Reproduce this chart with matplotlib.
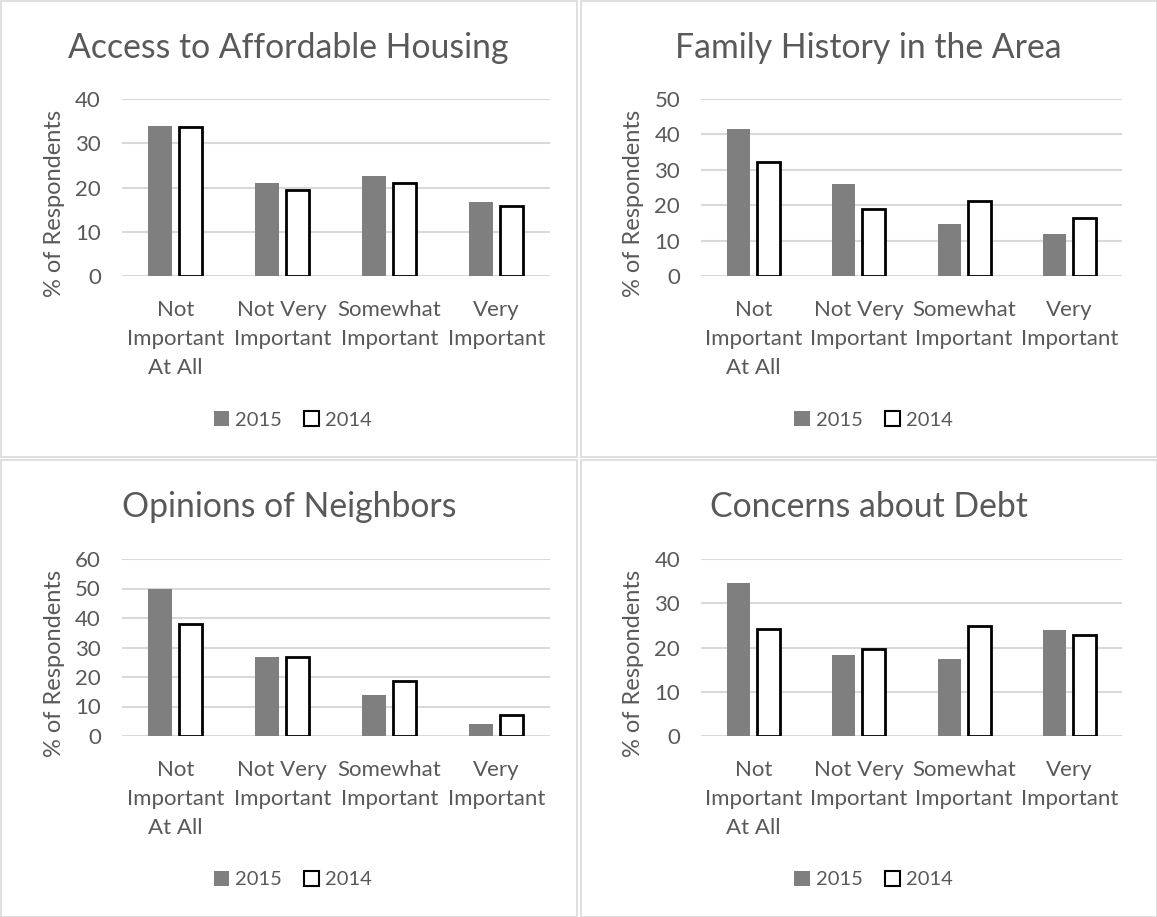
import matplotlib
matplotlib.use("Agg")
import matplotlib.pyplot as plt
import numpy as np
from matplotlib.patches import Rectangle, Patch

plt.rcParams['font.family'] = ['Lato', 'DejaVu Sans']

categories = ["Not\nImportant\nAt All", "Not Very\nImportant",
              "Somewhat\nImportant", "Very\nImportant"]
series_names = ["2015", "2014"]

titles = ["Access to Affordable Housing", "Family History in the Area",
          "Opinions of Neighbors", "Concerns about Debt"]
housing_2015 = [33.8, 21.0, 22.5, 16.8]
housing_2014 = [33.7, 19.5, 21.1, 15.8]
family_2015 = [41.5, 26.0, 14.7, 11.9]
family_2014 = [32.3, 18.9, 21.1, 16.3]
neighbors_2015 = [50.0, 26.7, 14.0, 4.2]
neighbors_2014 = [37.9, 26.7, 18.6, 7.0]
debt_2015 = [34.5, 18.3, 17.5, 23.9]
debt_2014 = [24.2, 19.6, 24.8, 22.8]
y_max = [40, 50, 60, 40]

W, H = 1157, 917
fig = plt.figure(figsize=(W / 100, H / 100), dpi=100)

TXT = '#595959'
GRID = '#d9d9d9'


def fx(x):
    return x / W


def fy(y):
    return 1 - y / H


# panel frames (x0, y0, x1, y1) in pixels
frames = [(0.5, 0.5, 577, 457), (581, 0.5, 1156.5, 457),
          (0.5, 460, 577, 916.5), (581, 460, 1156.5, 916.5)]
for x0, y0, x1, y1 in frames:
    fig.patches.append(Rectangle((fx(x0), fy(y1)), fx(x1 - x0), (y1 - y0) / H,
                                 transform=fig.transFigure, fill=False,
                                 edgecolor=GRID, linewidth=1.2))

# plot areas (left, top, right, bottom) in pixels
areas = [(121.7, 99, 549.7, 276), (701, 99, 1122, 276),
         (121.7, 559, 549.7, 736), (701, 559, 1122, 736)]
data = [(housing_2015, housing_2014), (family_2015, family_2014),
        (neighbors_2015, neighbors_2014), (debt_2015, debt_2014)]

x = np.arange(len(categories))
for i, (l, t, r, b) in enumerate(areas):
    ax = fig.add_axes([fx(l), fy(b), fx(r - l), (b - t) / H])
    v15, v14 = data[i]
    ax.bar(x - 0.142, v15, width=0.218, color='#7f7f7f', zorder=3)
    ax.bar(x + 0.142, v14, width=0.218, color='white', edgecolor='black',
           linewidth=2, zorder=3)
    ax.set_xlim(-0.5, 3.5)
    ax.set_ylim(0, y_max[i])
    ax.set_yticks(np.arange(0, y_max[i] + 1, 10))
    ax.grid(axis='y', color=GRID, linewidth=1.5, zorder=0)
    for s in ax.spines.values():
        s.set_visible(False)
    ax.tick_params(length=0, labelsize=16, labelcolor=TXT)
    ax.tick_params(axis='y', pad=15)
    ax.set_xticks(x)
    ax.set_xticklabels(categories, linespacing=1.55, va='top')
    ax.tick_params(axis='x', pad=17.5)
    ax.set_ylabel('% of Respondents', fontsize=17, color=TXT)
    ax.yaxis.set_label_coords(-57 / (r - l), 0.41)

    x0, y0, x1, y1 = frames[i]
    cx = (x0 + x1) / 2
    fig.text(fx(cx), fy(y0 + 57), titles[i], ha='center',
             va='baseline', fontsize=24.3, color=TXT)

    handles = [Patch(facecolor='#7f7f7f', edgecolor='none'),
               Patch(facecolor='white', edgecolor='black', linewidth=1.5)]
    fig.legend(handles, series_names, loc='center',
               bbox_to_anchor=(fx(x0 + 292.5), fy(y0 + 419.5)),
               ncol=2, frameon=False, fontsize=14.5, labelcolor=TXT,
               handlelength=0.75, handleheight=0.75, handletextpad=0.3,
               columnspacing=1.1)

plt.savefig('out.png', dpi=100)
